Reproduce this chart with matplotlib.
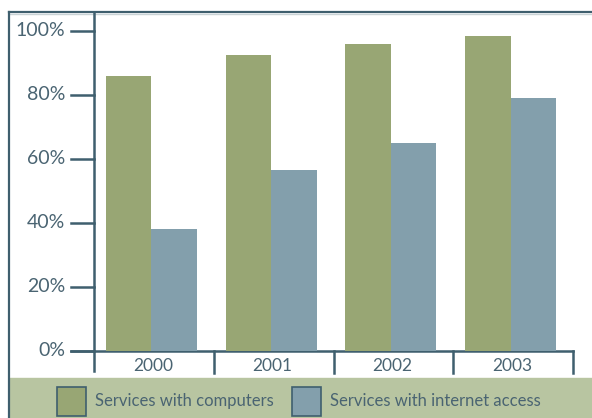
import matplotlib
matplotlib.use("Agg")
import matplotlib.pyplot as plt
from matplotlib.patches import Rectangle

# 数据
years = ["2000", "2001", "2002", "2003"]
computers = [86, 92.5, 96, 98.5]
internet = [38, 56.5, 65, 79]
ytick_vals = [0, 20, 40, 60, 80, 100]
ytick_labels = ["0%", "20%", "40%", "60%", "80%", "100%"]
legend_labels = ["Services with computers", "Services with internet access"]

green = "#98a674"
blue = "#839fac"
band = "#b8c5a1"
dark = "#3f5f6e"
txt = "#4a6472"

plt.rcParams['font.family'] = ['Lato', 'DejaVu Sans']

W, H = 592, 418
fig = plt.figure(figsize=(W / 100, H / 100), dpi=100)

# 背景层，像素坐标
bg = fig.add_axes([0, 0, 1, 1])
bg.set_xlim(0, W)
bg.set_ylim(H, 0)
bg.axis("off")

# 外框
bg.plot([9, W], [12, 12], color=dark, lw=1.6)
bg.plot([9, W], [14, 14], color="#c9d3d6", lw=1)
bg.plot([9, 9], [12, H], color=dark, lw=1.6)

# 图例底色
bg.add_patch(Rectangle((9, 378), W - 9, H - 378, color=band, zorder=0))

# 主坐标区
x0, x1, y0, y1 = 94, 573, 351, 12
ax = fig.add_axes([x0 / W, 1 - y0 / H, (x1 - x0) / W, (y0 - y1) / H])
ax.set_xlim(-0.5, 3.5)
ax.set_ylim(0, (y0 - y1) / 320 * 100)
ax.axis("off")

w = 0.38
off = -0.02
xs = range(len(years))
ax.bar([x - w / 2 + off for x in xs], computers, width=w, color=green, zorder=2)
ax.bar([x + w / 2 + off for x in xs], internet, width=w, color=blue, zorder=2)

# y轴刻度
for v, lab in zip(ytick_vals, ytick_labels):
    py = y0 - v * 3.2
    bg.plot([71, 94], [py, py], color=dark, lw=1.8)
    bg.text(65, py, lab, ha="right", va="center", fontsize=14, color=txt)

# 轴线
bg.plot([94, 94], [y1, 371], color=dark, lw=1.8)
bg.plot([71, x1], [y0, y0], color=dark, lw=1.8)
step = (x1 - x0) / 4
for i, yr in enumerate(years):
    bx = x0 + step * (i + 1)
    bg.plot([bx, bx], [y0, 373], color=dark, lw=1.8)
    bg.text(x0 + step * (i + 0.5) - 1, 366, yr, ha="center", va="center",
            fontsize=12.5, color=txt)

# 图例
for lx, col, lab in zip([57, 292], [green, blue], legend_labels):
    bg.add_patch(Rectangle((lx, 387), 29, 29, facecolor=col, edgecolor=dark, lw=1.2))
    bg.text(lx + 38, 401, lab, ha="left", va="center", fontsize=12, color=txt)

fig.savefig("out.png", dpi=100)
